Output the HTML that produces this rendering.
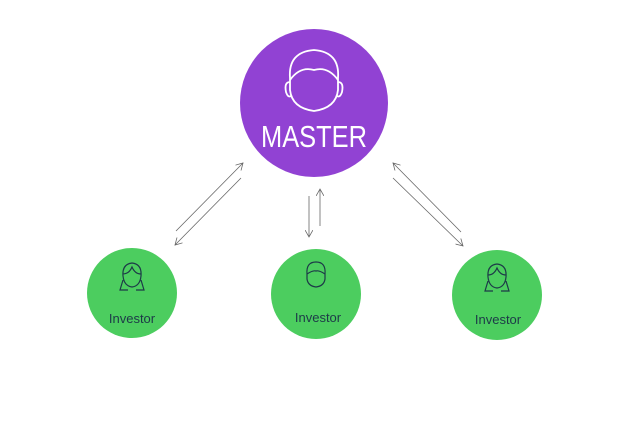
<!DOCTYPE html>
<html><head><style>
html,body{margin:0;padding:0;background:#fff;}
body{width:638px;height:425px;overflow:hidden;}
</style></head><body>
<svg width="638" height="425" viewBox="0 0 638 425" xmlns="http://www.w3.org/2000/svg">
<defs>
<marker id="a" markerWidth="8" markerHeight="8" refX="7" refY="4" orient="auto" markerUnits="userSpaceOnUse">
<path d="M0,0 L7,4 L0,8" fill="none" stroke="#666" stroke-width="0.8"/></marker>
</defs>
<circle cx="314" cy="103" r="74" fill="#9142d3"/>
<g fill="none" stroke="#fff" stroke-width="1.8">
<path d="M290,78 Q288,52 314,50 Q340,52 338,78 L338,90 Q336,108 314,111 Q292,108 290,90 Z"/>
<path d="M290,80 Q300,66 314,70 Q328,66 338,80"/>
<path d="M290,82 Q284,82 286,92 Q288,98 291,96"/>
<path d="M338,82 Q344,82 342,92 Q340,98 337,96"/>
</g>
<text x="314" y="147" text-anchor="middle" font-family="Liberation Sans, sans-serif" font-size="31" fill="#fff" textLength="106" lengthAdjust="spacingAndGlyphs">MASTER</text>
<g stroke="#666" stroke-width="0.8" fill="none">
<line x1="176" y1="231" x2="243" y2="163" marker-end="url(#a)"/>
<line x1="241" y1="178" x2="175" y2="245" marker-end="url(#a)"/>
<line x1="320" y1="226" x2="320" y2="189" marker-end="url(#a)"/>
<line x1="309" y1="196" x2="309" y2="237" marker-end="url(#a)"/>
<line x1="461" y1="232" x2="393" y2="163" marker-end="url(#a)"/>
<line x1="393" y1="178" x2="463" y2="246" marker-end="url(#a)"/>
</g>
<g font-family="Liberation Sans, sans-serif" font-size="13" fill="#1d3a48" text-anchor="middle">
<circle cx="132" cy="293" r="45" fill="#4ccd5f"/>
<circle cx="316" cy="294" r="45" fill="#4ccd5f"/>
<circle cx="497" cy="295" r="45" fill="#4ccd5f"/>
<text x="132" y="323">Investor</text>
<text x="318" y="322">Investor</text>
<text x="498" y="324">Investor</text>
</g>
<g fill="none" stroke="#1d3a48" stroke-width="1.2">
<g transform="translate(132,278)"><path d="M-9,-2 Q-10,-14 0,-15 Q10,-14 9,-2 Q8,8 0,9 Q-8,8 -9,-2Z M-9,-4 Q-3,-4 0,-11 Q3,-4 9,-4 M-9,2 L-12,12 L-4,12 M9,2 L12,12 L4,12"/></g>
<g transform="translate(316,277)"><path d="M-9,-3 Q-10,-15 0,-15 Q10,-15 9,-3 L9,2 Q8,9 0,10 Q-8,9 -9,2Z M-9,-3 Q-3,-7 0,-6 Q3,-7 9,-3"/></g>
<g transform="translate(497,279)"><path d="M-9,-2 Q-10,-14 0,-15 Q10,-14 9,-2 Q8,8 0,9 Q-8,8 -9,-2Z M-9,-4 Q-3,-4 0,-11 Q3,-4 9,-4 M-9,2 L-12,12 L-4,12 M9,2 L12,12 L4,12"/></g>
</g>
</svg>
</body></html>
